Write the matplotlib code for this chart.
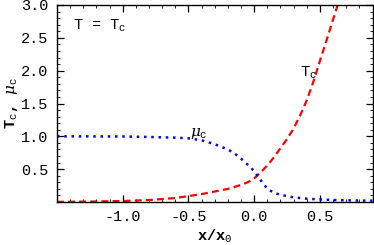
import matplotlib
matplotlib.use("Agg")
import matplotlib.pyplot as plt
from matplotlib.ticker import MultipleLocator

# values
tc_x = [-1.5, -1.25, -1.0, -0.8, -0.6, -0.5, -0.4, -0.3, -0.2, -0.1, -0.05,
        0.0, 0.05, 0.1, 0.15, 0.2, 0.25, 0.3, 0.35, 0.4, 0.45, 0.5, 0.55, 0.6, 0.65]
tc_y = [0.003, 0.007, 0.015, 0.03, 0.06, 0.09, 0.12, 0.16, 0.2, 0.26, 0.3,
        0.36, 0.45, 0.56, 0.68, 0.82, 0.96, 1.12, 1.32, 1.55, 1.83, 2.15, 2.46, 2.78, 3.1]

mu_x = [-1.5, -1.0, -0.8, -0.6, -0.5, -0.4, -0.3, -0.2, -0.15, -0.1, -0.05,
        0.0, 0.05, 0.1, 0.15, 0.2, 0.3, 0.4, 0.5, 0.6, 0.7, 0.9]
mu_y = [1.0, 0.998, 0.99, 0.98, 0.97, 0.94, 0.88, 0.8, 0.74, 0.66, 0.57,
        0.47, 0.33, 0.2, 0.14, 0.11, 0.07, 0.05, 0.04, 0.03, 0.025, 0.02]

x_ticks = [-1.0, -0.5, 0.0, 0.5]
x_ticklabels = ["-1.0", "-0.5", "0.0", "0.5"]
y_ticks = [0.5, 1.0, 1.5, 2.0, 2.5, 3.0]
y_ticklabels = ["0.5", "1.0", "1.5", "2.0", "2.5", "3.0"]

mono = "Liberation Mono"
plt.rcParams["font.family"] = [mono, "DejaVu Sans Mono"]
plt.rcParams["mathtext.fontset"] = "custom"
plt.rcParams["mathtext.rm"] = mono
plt.rcParams["mathtext.it"] = "DejaVu Serif:italic"
plt.rcParams["mathtext.bf"] = mono + ":bold"

fig = plt.figure(figsize=(3.74, 2.45), dpi=100)
ax = fig.add_axes([0.1524, 0.1755, 0.8436, 0.8041])

ax.plot(tc_x, tc_y, color="#ff0000", lw=1.6, linestyle=(0, (3.1, 1.9)))
ax.plot(mu_x, mu_y, color="#0000ff", lw=1.8, linestyle=(0, (1.0, 1.9)))

ax.set_xlim(-1.5, 0.9)
ax.set_ylim(0, 3.0)

ax.set_xticks(x_ticks)
ax.set_xticklabels(x_ticklabels)
ax.set_yticks(y_ticks)
ax.set_yticklabels(y_ticklabels)
ax.xaxis.set_minor_locator(MultipleLocator(0.1))
ax.yaxis.set_minor_locator(MultipleLocator(0.1))
ax.tick_params(which="both", direction="in", top=True, right=True,
               labelsize=11, pad=6)
ax.tick_params(which="major", length=5, width=0.9)
ax.tick_params(which="minor", length=2.5, width=0.6)
for s in ax.spines.values():
    s.set_linewidth(1.0)

ax.text(0.05, 0.893, r"T = T$_{\mathrm{c}}$", transform=ax.transAxes,
        fontsize=11, ha="left", va="center")
ax.text(0.345, 1.97, r"T$_{\mathrm{c}}$", fontsize=11, ha="left", va="center")
ax.text(-0.49, 1.05, r"$\mu_{\mathrm{c}}$", fontsize=11, ha="left", va="center")

ax.set_xlabel(r"x/x$_{\mathrm{0}}$", fontsize=11, fontweight="bold", labelpad=2)
ax.set_ylabel(r"T$_{\mathrm{c}}$, $\mu_{\mathrm{c}}$", fontsize=11,
              fontweight="bold", labelpad=1)

fig.savefig("out.png", dpi=100)
